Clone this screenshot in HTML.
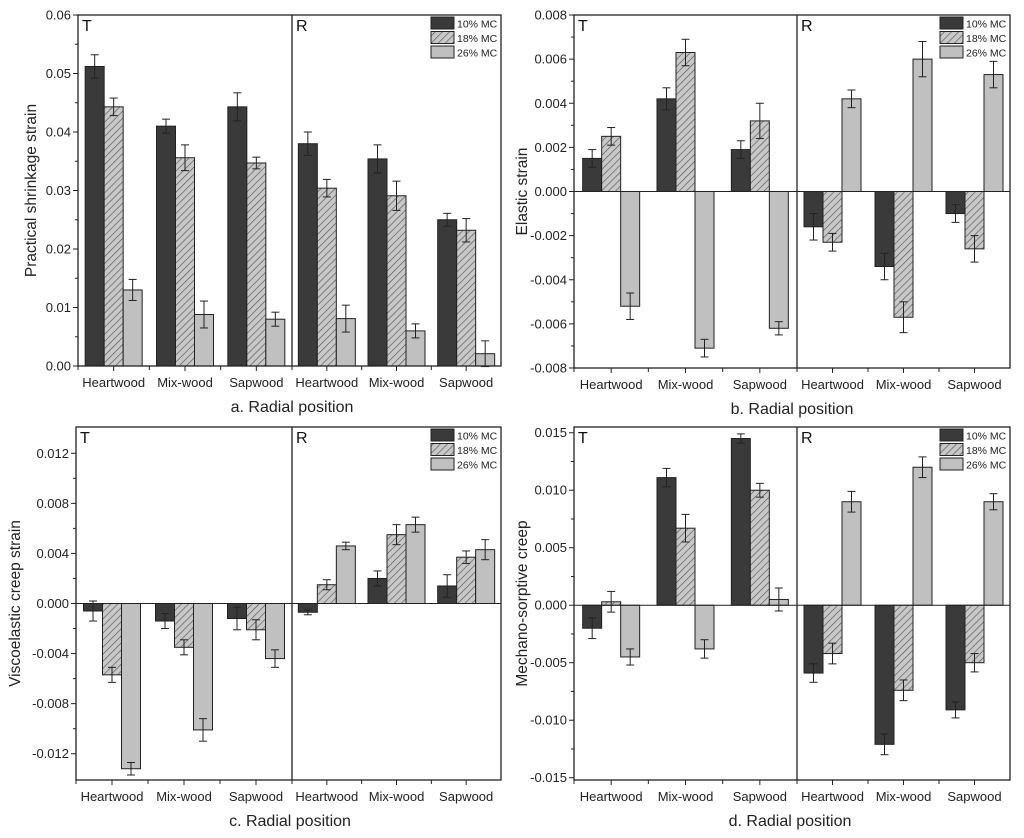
<!DOCTYPE html>
<html><head><meta charset="utf-8"><style>
body{margin:0;background:#fff;width:1024px;height:838px;overflow:hidden}
svg{display:block;font-family:"Liberation Sans",Arial,sans-serif}
</style></head><body>
<svg id="c" width="1024" height="838" viewBox="0 0 1024 838" xmlns="http://www.w3.org/2000/svg">
<defs><pattern id="hatch" patternUnits="userSpaceOnUse" width="5" height="5" patternTransform="rotate(45)">
<rect width="5" height="5" fill="#c8c8c8"/><line x1="0" y1="0" x2="0" y2="5" stroke="#555" stroke-width="1.3"/></pattern></defs>
</svg>
<script>
const categories=["Heartwood","Mix-wood","Sapwood"];
const seriesNames=["10% MC","18% MC","26% MC"];
// panel a
const aT10=[0.0512,0.041,0.0443], aT18=[0.0443,0.0356,0.0347], aT26=[0.013,0.0088,0.008];
const aR10=[0.038,0.0354,0.025], aR18=[0.0304,0.0291,0.0232], aR26=[0.0081,0.006,0.0021];
const aTe10=[0.002,0.0012,0.0024], aTe18=[0.0015,0.0022,0.001], aTe26=[0.0018,0.0023,0.0012];
const aRe10=[0.002,0.0024,0.0011], aRe18=[0.0015,0.0025,0.002], aRe26=[0.0023,0.0012,0.0022];
const aTicks=[0,0.01,0.02,0.03,0.04,0.05,0.06];
const aTickLabels=["0.00","0.01","0.02","0.03","0.04","0.05","0.06"];
// panel b
const bT10=[0.0015,0.0042,0.0019], bT18=[0.0025,0.0063,0.0032], bT26=[-0.0052,-0.0071,-0.0062];
const bR10=[-0.0016,-0.0034,-0.001], bR18=[-0.0023,-0.0057,-0.0026], bR26=[0.0042,0.006,0.0053];
const bTe10=[0.0004,0.0005,0.0004], bTe18=[0.0004,0.0006,0.0008], bTe26=[0.0006,0.0004,0.0003];
const bRe10=[0.0006,0.0006,0.0004], bRe18=[0.0004,0.0007,0.0006], bRe26=[0.0004,0.0008,0.0006];
const bTicks=[-0.008,-0.006,-0.004,-0.002,0,0.002,0.004,0.006,0.008];
const bTickLabels=["-0.008","-0.006","-0.004","-0.002","0.000","0.002","0.004","0.006","0.008"];
// panel c
const cT10=[-0.0006,-0.0014,-0.0012], cT18=[-0.0057,-0.0035,-0.0021], cT26=[-0.0132,-0.0101,-0.0044];
const cR10=[-0.0007,0.002,0.0014], cR18=[0.0015,0.0055,0.0037], cR26=[0.0046,0.0063,0.0043];
const cTe10=[0.0008,0.0006,0.0009], cTe18=[0.0006,0.0006,0.0008], cTe26=[0.0005,0.0009,0.0007];
const cRe10=[0.0002,0.0006,0.0009], cRe18=[0.0004,0.0008,0.0005], cRe26=[0.0003,0.0006,0.0008];
const cTicks=[-0.012,-0.008,-0.004,0,0.004,0.008,0.012];
const cTickLabels=["-0.012","-0.008","-0.004","0.000","0.004","0.008","0.012"];
// panel d
const dT10=[-0.002,0.0111,0.0145], dT18=[0.0003,0.0067,0.01], dT26=[-0.0045,-0.0038,0.0005];
const dR10=[-0.0059,-0.0121,-0.0091], dR18=[-0.0042,-0.0074,-0.005], dR26=[0.009,0.012,0.009];
const dTe10=[0.0009,0.0008,0.0004], dTe18=[0.0009,0.0012,0.0006], dTe26=[0.0007,0.0008,0.001];
const dRe10=[0.0008,0.0009,0.0007], dRe18=[0.0009,0.0009,0.0008], dRe26=[0.0009,0.0009,0.0007];
const dTicks=[-0.015,-0.01,-0.005,0,0.005,0.01,0.015];
const dTickLabels=["-0.015","-0.010","-0.005","0.000","0.005","0.010","0.015"];

const svg=document.getElementById('c');
const NS="http://www.w3.org/2000/svg";
function el(tag,attrs,parent){const e=document.createElementNS(NS,tag);for(const k in attrs)e.setAttribute(k,attrs[k]);(parent||svg).appendChild(e);return e;}
const fills=["#3a3a3a","url(#hatch)","#c0c0c0"];

function panel(o){
  const g=el('g',{});
  
  
  const y=v=>o.B-(v-o.ymin)/(o.ymax-o.ymin)*(o.B-o.T);
  const mid=o.D;
  const halves=[[o.L,mid,o.tData,o.tErr,"T"],[mid,o.R,o.rData,o.rErr,"R"]];
  const bw=19;
  halves.forEach(([x0,x1,data,err,lab])=>{
    const step=(x1-x0)/3;
    categories.forEach((cat,ci)=>{
      const cx=x0+step*(ci+0.5);
      data.forEach((ser,si)=>{
        const v=ser[ci], bx=cx+(si-1)*bw-bw/2;
        const y0=y(0), yv=y(v);
        const r=el('rect',{x:bx,y:Math.min(y0,yv),width:bw,height:Math.abs(yv-y0),fill:fills[si],stroke:'#222','stroke-width':1},g);
        
        
        const e=err[si][ci], ex=bx+bw/2;
        el('line',{x1:ex,x2:ex,y1:y(v+e),y2:y(v-e),stroke:'#222','stroke-width':1},g);
        el('line',{x1:ex-4,x2:ex+4,y1:y(v+e),y2:y(v+e),stroke:'#222','stroke-width':1},g);
        el('line',{x1:ex-4,x2:ex+4,y1:y(v-e),y2:y(v-e),stroke:'#222','stroke-width':1},g);
      });
      const t=el('text',{x:cx,y:o.B+21,'text-anchor':'middle','font-size':13,fill:'#222'},g);
      t.textContent=cat;
      
      
      el('line',{x1:cx,x2:cx,y1:o.B,y2:o.B+5,stroke:'#222'},g);
      el('line',{x1:x0+step*ci,x2:x0+step*ci,y1:o.B,y2:o.B+4,stroke:'#222'},g);
    });
    const tl=el('text',{x:x0+4,y:o.T+16,'font-size':16,fill:'#111'},g);
    tl.textContent=lab;
    
    
  });
  if(o.ymin<0) el('line',{x1:o.L,x2:o.R,y1:y(0),y2:y(0),stroke:'#222','stroke-width':1},g);
  el('rect',{x:o.L,y:o.T,width:o.R-o.L,height:o.B-o.T,fill:'none',stroke:'#222','stroke-width':1.3},g);
  el('line',{x1:mid,x2:mid,y1:o.T,y2:o.B,stroke:'#222','stroke-width':1.3},g);
  o.ticks.forEach((tv,i)=>{
    const yy=y(tv);
    el('line',{x1:o.L-5,x2:o.L,y1:yy,y2:yy,stroke:'#222'},g);
    if(i<o.ticks.length-1){const ym=y((tv+o.ticks[i+1])/2);el('line',{x1:o.L-3,x2:o.L,y1:ym,y2:ym,stroke:'#222'},g);}
    const t=el('text',{x:o.L-7,y:yy+4.5,'text-anchor':'end','font-size':13,fill:'#222'},g);
    t.textContent=o.tickLabels[i];
    
    
  });
  const yt=el('text',{x:0,y:0,'text-anchor':'middle','font-size':15.5,fill:'#222',transform:`translate(${o.ytx},${(o.T+o.B)/2}) rotate(-90)`},g);
  yt.textContent=o.ytitle;
  
  
  const xt=el('text',{x:o.xtx,y:o.B+46,'text-anchor':'middle','font-size':16,fill:'#222'},g);
  xt.textContent=o.xtitle;
  
  
  const lx=o.R-70;
  seriesNames.forEach((s,i)=>{
    const ly=o.T+2+i*14.5;
    const r=el('rect',{x:lx,y:ly,width:23,height:12,fill:fills[i],stroke:'#222'},g);
    
    
    const t=el('text',{x:lx+26,y:ly+10.5,'font-size':10.5,fill:'#222'},g);
    t.textContent=s;
    
    
  });
}
panel({name:'panel-a',L:78,R:501,T:15,B:366,D:292,ymin:0,ymax:0.06,ticks:aTicks,tickLabels:aTickLabels,
  tData:[aT10,aT18,aT26],tErr:[aTe10,aTe18,aTe26],rData:[aR10,aR18,aR26],rErr:[aRe10,aRe18,aRe26],
  ytitle:'Practical shrinkage strain',ytx:36,xtitle:'a. Radial position',xtx:292});
panel({name:'panel-b',L:574,R:1010,T:15,B:368,D:797,ymin:-0.008,ymax:0.008,ticks:bTicks,tickLabels:bTickLabels,
  tData:[bT10,bT18,bT26],tErr:[bTe10,bTe18,bTe26],rData:[bR10,bR18,bR26],rErr:[bRe10,bRe18,bRe26],
  ytitle:'Elastic strain',ytx:527,xtitle:'b. Radial position',xtx:792});
panel({name:'panel-c',L:76,R:501,T:427,B:780,D:292,ymin:-0.0141,ymax:0.0141,ticks:cTicks,tickLabels:cTickLabels,
  tData:[cT10,cT18,cT26],tErr:[cTe10,cTe18,cTe26],rData:[cR10,cR18,cR26],rErr:[cRe10,cRe18,cRe26],
  ytitle:'Viscoelastic creep strain',ytx:20,xtitle:'c.  Radial position',xtx:290});
panel({name:'panel-d',L:574,R:1010,T:427,B:780,D:797,ymin:-0.0152,ymax:0.0155,ticks:dTicks,tickLabels:dTickLabels,
  tData:[dT10,dT18,dT26],tErr:[dTe10,dTe18,dTe26],rData:[dR10,dR18,dR26],rErr:[dRe10,dRe18,dRe26],
  ytitle:'Mechano-sorptive creep',ytx:527,xtitle:'d.  Radial position',xtx:790});
</script>
</body></html>
